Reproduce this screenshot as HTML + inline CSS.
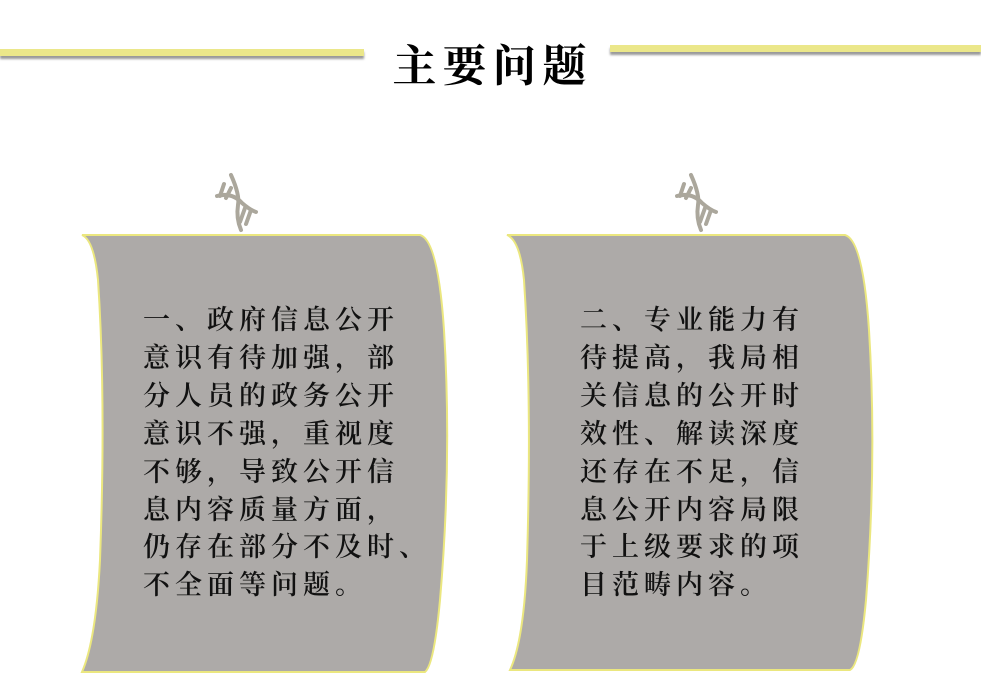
<!DOCTYPE html>
<html><head><meta charset="utf-8"><style>
body{margin:0;width:981px;height:689px;background:#fff;overflow:hidden;position:relative;font-family:"Liberation Serif","Noto Serif CJK SC",serif}
.bar{position:absolute;height:7px;background:#ebe78a;box-shadow:0 3px 2px #999}
.t{position:absolute;font-size:27px;line-height:37.9px;letter-spacing:5px;color:#111;white-space:pre;font-weight:600}
</style></head><body>
<div class="bar" style="left:0;top:49px;width:364px"></div>
<div class="bar" style="left:610px;top:45px;width:371px"></div>
<div style="position:absolute;left:370px;top:30px;width:245px;text-align:center;white-space:nowrap;font-size:44px;font-weight:bold;letter-spacing:6px;font-family:'Noto Serif CJK SC',serif;color:#000">主要问题</div>
<svg width="981" height="689" style="position:absolute;left:0;top:0">
<g fill="#adaaa8" stroke="#ebe77f" stroke-width="2">
<path d="M82,235 L420,235 Q438,240 444,330 Q452,460 440,600 Q434,665 425,672 L82,672 Q96,640 100,560 Q106,400 98,280 Q94,240 82,235Z"/>
<path d="M507,235 L845,235 Q863,240 869,330 Q877,460 866,600 Q860,665 850,670 L510,670 Q524,640 527,560 Q532,400 524,280 Q520,240 507,235Z"/>
</g>
<g fill="none" stroke="#aba79c" stroke-width="4" stroke-linecap="round">
<path d="M231,175 Q240,195 238,205 Q236,218 241,230"/>
<path d="M217,196 Q232,192 242,203 Q250,210 256,212"/>
<path d="M224,184 L220,196 M231,188 L226,198 M245,208 L240,222 M251,210 L246,224"/>
<path d="M691,175 Q700,195 698,205 Q696,218 701,230"/>
<path d="M677,196 Q692,192 702,203 Q710,210 716,212"/>
<path d="M684,184 L680,196 M691,188 L686,198 M705,208 L700,222 M711,210 L706,224"/>
</g>
</svg>
<div class="t" style="left:143px;top:302px">一、政府信息公开
意识有待加强，部
分人员的政务公开
意识不强，重视度
不够，导致公开信
息内容质量方面，
仍存在部分不及时、
不全面等问题。</div>
<div class="t" style="left:580px;top:302px">二、专业能力有
待提高，我局相
关信息的公开时
效性、解读深度
还存在不足，信
息公开内容局限
于上级要求的项
目范畴内容。</div>
</body></html>
